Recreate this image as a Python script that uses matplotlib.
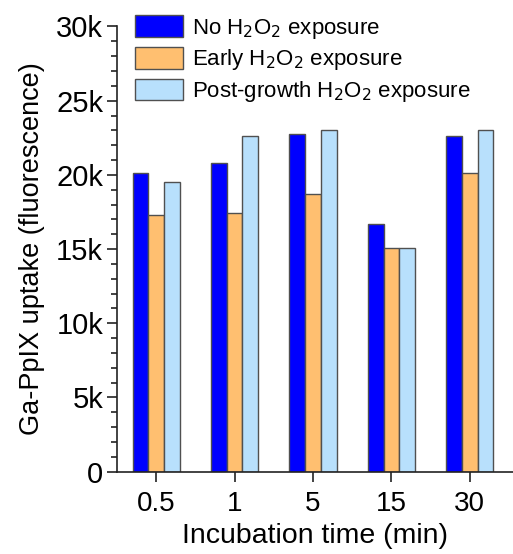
import matplotlib
matplotlib.use("Agg")
import matplotlib.pyplot as plt
import matplotlib.ticker as ticker
import numpy as np

plt.rcParams["font.family"] = ["Liberation Sans", "DejaVu Sans"]

# values
times = ["0.5", "1", "5", "15", "30"]
no_h2o2 = [20100, 20800, 22750, 16700, 22600]
early_h2o2 = [17300, 17400, 18700, 15080, 20100]
post_h2o2 = [19550, 22650, 23000, 15040, 23050]

series = [
    (no_h2o2, "No H$_2$O$_2$ exposure", "#0000ff"),
    (early_h2o2, "Early H$_2$O$_2$ exposure", "#ffbf70"),
    (post_h2o2, "Post-growth H$_2$O$_2$ exposure", "#b8e0fc"),
]

fig = plt.figure(figsize=(5.13, 5.54), dpi=100)
ax = fig.add_axes([0.228, 0.1486, 0.772, 0.8036])

x = np.arange(len(times))
width = 0.2
for i, (vals, label, color) in enumerate(series):
    ax.bar(x + (i - 1) * width, vals, width, color=color, edgecolor="#505050",
           linewidth=1.0, label=label)

ax.set_xlim(-0.5, 4.55)
ax.set_ylim(0, 30000)
ax.set_xticks(x)
ax.set_xticklabels(times)
ax.yaxis.set_major_locator(ticker.MultipleLocator(5000))
ax.yaxis.set_minor_locator(ticker.MultipleLocator(1000))
ax.yaxis.set_major_formatter(ticker.FuncFormatter(
    lambda v, p: "0" if v == 0 else f"{int(v / 1000)}k"))

for side in ["top", "right"]:
    ax.spines[side].set_visible(False)
for side in ["left", "bottom"]:
    ax.spines[side].set_linewidth(1.2)
    ax.spines[side].set_color("#222222")

ax.tick_params(axis="both", which="major", direction="out", length=7, width=1.2,
               color="#222222")
ax.tick_params(axis="x", labelsize=20, pad=7)
ax.tick_params(axis="y", labelsize=21, pad=3)
ax.tick_params(axis="y", which="minor", direction="out", length=4, width=1.2,
               color="#222222")

ax.set_xlabel("Incubation time (min)", fontsize=20.5, labelpad=4)
ax.set_ylabel("Ga-PpIX uptake (fluorescence)", fontsize=19.5, labelpad=8)

ax.legend(loc="upper left", bbox_to_anchor=(0.022, 1.045), frameon=False,
          fontsize=16, handlelength=2.2, handleheight=1.1,
          labelspacing=0.3, handletextpad=0.4, borderaxespad=0)

fig.savefig("out.png", dpi=100)
